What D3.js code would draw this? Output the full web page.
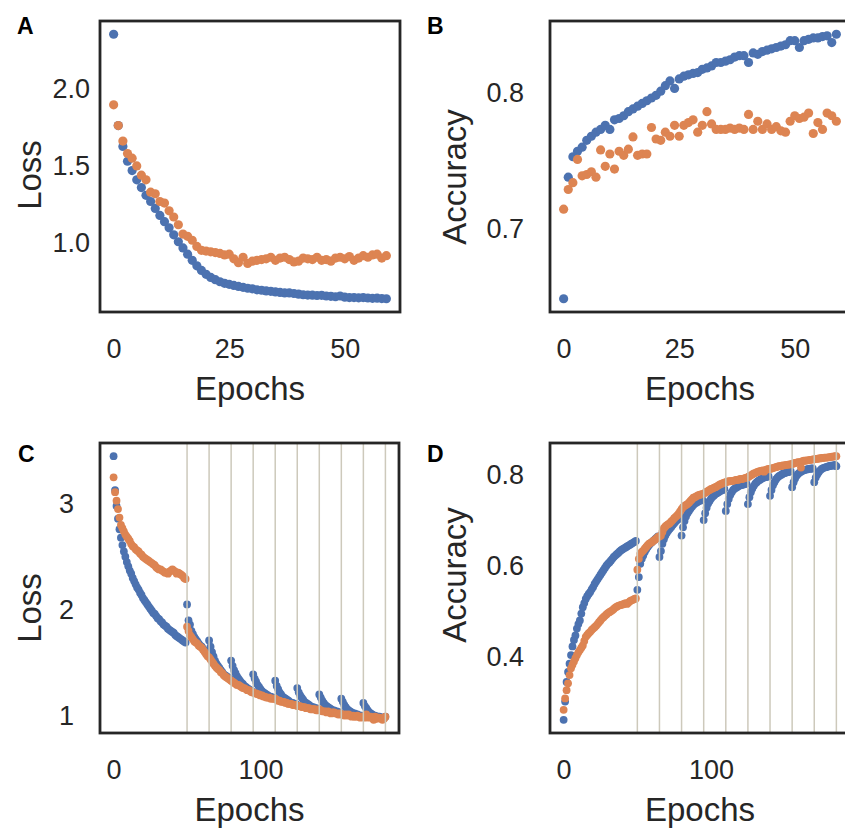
<!DOCTYPE html>
<html>
<head>
<meta charset="utf-8">
<script src="https://cdn.jsdelivr.net/npm/d3@7"></script>
<style>
  body { margin: 0; background: #fff; }
  svg { display: block; font-family: "Liberation Sans", Arial, sans-serif; }
</style>
</head>
<body>
<div id="fig"></div>
<script>
//DATA
//Panel A - loss, single run (60 epochs)
const trainLossA = [
  2.35, 1.76, 1.625, 1.53, 1.47, 1.41, 1.36, 1.31, 1.27, 1.225,
  1.18, 1.14, 1.10, 1.055, 1.01, 0.97, 0.93, 0.89, 0.855, 0.825,
  0.80, 0.78, 0.765, 0.752, 0.742, 0.735, 0.728, 0.722, 0.716, 0.71,
  0.706, 0.70, 0.697, 0.693, 0.69, 0.686, 0.683, 0.68, 0.68, 0.676,
  0.672, 0.668, 0.666, 0.665, 0.663, 0.664, 0.66, 0.658, 0.655, 0.66,
  0.652, 0.65, 0.65, 0.648, 0.65, 0.647, 0.645, 0.646, 0.643, 0.642
];
const valLossA = [
  1.894, 1.76, 1.66, 1.58, 1.55, 1.50, 1.44, 1.41, 1.33, 1.32,
  1.27, 1.26, 1.21, 1.17, 1.12, 1.06, 1.045, 1.02, 0.98, 0.955,
  0.95, 0.945, 0.94, 0.935, 0.925, 0.93, 0.90, 0.875, 0.91, 0.87,
  0.885, 0.89, 0.895, 0.90, 0.91, 0.89, 0.905, 0.91, 0.895, 0.88,
  0.885, 0.905, 0.90, 0.895, 0.91, 0.89, 0.895, 0.885, 0.905, 0.91,
  0.90, 0.915, 0.89, 0.905, 0.92, 0.91, 0.925, 0.93, 0.905, 0.92
];

//Panel B - accuracy, single run
const trainAccB = [
  0.649, 0.738, 0.753, 0.757, 0.760, 0.765, 0.768, 0.771, 0.773, 0.776,
  0.773, 0.780, 0.781, 0.783, 0.786, 0.788, 0.790, 0.792, 0.794, 0.796,
  0.798, 0.801, 0.805, 0.8085, 0.803, 0.810, 0.812, 0.813, 0.814, 0.8146,
  0.817, 0.818, 0.8195, 0.822, 0.822, 0.823, 0.824, 0.826, 0.827, 0.827,
  0.822, 0.829, 0.828, 0.830, 0.831, 0.832, 0.833, 0.834, 0.835, 0.838,
  0.838, 0.833, 0.838, 0.839, 0.840, 0.840, 0.841, 0.8415, 0.8366, 0.8427
];
const valAccB = [
  0.7146, 0.729, 0.734, 0.751, 0.739, 0.740, 0.742, 0.738, 0.758, 0.746,
  0.755, 0.744, 0.757, 0.754, 0.7585, 0.7675, 0.754, 0.755, 0.755, 0.7744,
  0.766, 0.765, 0.771, 0.768, 0.776, 0.768, 0.776, 0.778, 0.780, 0.771,
  0.776, 0.786, 0.777, 0.773, 0.773, 0.773, 0.774, 0.773, 0.774, 0.773,
  0.784, 0.773, 0.779, 0.773, 0.777, 0.773, 0.775, 0.772, 0.771, 0.779,
  0.783, 0.781, 0.782, 0.785, 0.770, 0.778, 0.773, 0.785, 0.783, 0.779
];

//Panel C - loss, restarted training (186 epochs)
const trainLossC = [
  3.45, 3.13, 2.98, 2.86, 2.76, 2.68, 2.61, 2.55, 2.50, 2.45,
  2.41, 2.37, 2.34, 2.30, 2.27, 2.24, 2.21, 2.19, 2.16, 2.14,
  2.11, 2.09, 2.07, 2.05, 2.03, 2.01, 1.99, 1.97, 1.96, 1.94,
  1.92, 1.91, 1.89, 1.88, 1.86, 1.85, 1.84, 1.82, 1.81, 1.80,
  1.79, 1.78, 1.76, 1.75, 1.74, 1.73, 1.72, 1.71, 1.70, 1.69,
  2.05, 1.90, 1.86, 1.80, 1.77, 1.74, 1.72, 1.70, 1.68, 1.66, 1.65, 1.63, 1.61, 1.59, 1.57,
  1.71, 1.65, 1.60, 1.56, 1.52, 1.49, 1.47, 1.45, 1.43, 1.41, 1.39, 1.38, 1.37, 1.36, 1.35,
  1.52, 1.47, 1.43, 1.40, 1.37, 1.35, 1.33, 1.31, 1.30, 1.28, 1.27, 1.26, 1.25, 1.24, 1.23,
  1.39, 1.35, 1.32, 1.29, 1.27, 1.25, 1.23, 1.22, 1.21, 1.20, 1.19, 1.18, 1.18, 1.17, 1.17,
  1.33, 1.28, 1.25, 1.22, 1.20, 1.18, 1.17, 1.16, 1.15, 1.14, 1.13, 1.12, 1.12, 1.11, 1.11,
  1.26, 1.22, 1.19, 1.17, 1.15, 1.13, 1.12, 1.11, 1.10, 1.09, 1.08, 1.08, 1.07, 1.07, 1.06,
  1.20, 1.17, 1.14, 1.12, 1.10, 1.09, 1.08, 1.07, 1.06, 1.05, 1.05, 1.04, 1.04, 1.03, 1.03,
  1.16, 1.13, 1.10, 1.08, 1.06, 1.05, 1.04, 1.03, 1.02, 1.02, 1.01, 1.01, 1.00, 1.00, 1.00,
  1.12, 1.09, 1.07, 1.05, 1.03, 1.02, 1.01, 1.00, 1.00, 0.99, 0.99, 0.99, 0.98, 0.98, 0.98, 0.99
];
const valLossC = [
  3.25, 3.11, 3.03, 2.95, 2.87, 2.80, 2.77, 2.74, 2.71, 2.69,
  2.67, 2.65, 2.62, 2.60, 2.59, 2.57, 2.56, 2.55, 2.53, 2.52,
  2.50, 2.49, 2.48, 2.47, 2.46, 2.45, 2.44, 2.43, 2.42, 2.40,
  2.39, 2.38, 2.38, 2.37, 2.36, 2.35, 2.35, 2.34, 2.36, 2.37,
  2.38, 2.37, 2.36, 2.34, 2.35, 2.34, 2.33, 2.32, 2.30, 2.29,
  1.84, 1.80, 1.76, 1.74, 1.72, 1.70, 1.69, 1.68, 1.66, 1.65,
  1.64, 1.62, 1.60, 1.58, 1.56, 1.55, 1.53, 1.51, 1.49, 1.47,
  1.455, 1.44, 1.43, 1.41, 1.40, 1.38, 1.37, 1.36, 1.35, 1.34,
  1.33, 1.32, 1.31, 1.30, 1.29, 1.29, 1.28, 1.27, 1.26, 1.26,
  1.25, 1.24, 1.24, 1.23, 1.22, 1.22, 1.21, 1.21, 1.20, 1.20,
  1.19, 1.19, 1.18, 1.18, 1.17, 1.17, 1.17, 1.16, 1.16, 1.16,
  1.16, 1.15, 1.14, 1.14, 1.13, 1.13, 1.13, 1.12, 1.12, 1.11,
  1.11, 1.11, 1.10, 1.10, 1.10, 1.09, 1.09, 1.09, 1.08, 1.08,
  1.08, 1.07, 1.07, 1.07, 1.06, 1.06, 1.06, 1.06, 1.05, 1.05,
  1.06, 1.05, 1.04, 1.04, 1.04, 1.03, 1.04, 1.03, 1.02, 1.03,
  1.03, 1.02, 1.02, 1.01, 1.02, 1.01, 1.01, 1.00, 1.01, 1.00,
  1.01, 1.00, 0.99, 1.00, 0.99, 0.99, 1.00, 0.99, 0.98, 0.99,
  0.99, 0.98, 1.01, 0.99, 0.98, 0.99, 0.98, 0.96, 0.99, 0.97,
  0.98, 0.98, 0.97, 0.96, 0.97, 0.99
];

//Panel D - accuracy, restarted training
const trainAccD = [
  0.262, 0.302, 0.345, 0.367, 0.385, 0.404, 0.423, 0.437, 0.447, 0.462,
  0.472, 0.480, 0.495, 0.509, 0.518, 0.527, 0.533, 0.538, 0.542, 0.548,
  0.553, 0.560, 0.565, 0.570, 0.575, 0.580, 0.585, 0.590, 0.595, 0.600,
  0.604, 0.607, 0.611, 0.615, 0.619, 0.622, 0.625, 0.628, 0.631, 0.634,
  0.636, 0.638, 0.640, 0.642, 0.644, 0.646, 0.648, 0.650, 0.652, 0.654,
  0.547, 0.575, 0.604, 0.615, 0.622, 0.630, 0.636, 0.641, 0.645, 0.649, 0.652, 0.655, 0.658, 0.661, 0.664,
  0.619, 0.632, 0.648, 0.658, 0.666, 0.672, 0.677, 0.681, 0.685, 0.689, 0.693, 0.697, 0.700, 0.703, 0.707,
  0.666, 0.684, 0.698, 0.708, 0.715, 0.720, 0.725, 0.729, 0.733, 0.736, 0.738, 0.740, 0.742, 0.743, 0.745,
  0.700, 0.715, 0.727, 0.736, 0.742, 0.747, 0.751, 0.754, 0.757, 0.759, 0.761, 0.763, 0.765, 0.766, 0.768,
  0.720, 0.735, 0.746, 0.755, 0.761, 0.766, 0.769, 0.771, 0.773, 0.775, 0.776, 0.777, 0.778, 0.779, 0.780,
  0.735, 0.750, 0.761, 0.769, 0.775, 0.780, 0.783, 0.786, 0.788, 0.790, 0.792, 0.793, 0.794, 0.795, 0.796,
  0.753, 0.766, 0.776, 0.783, 0.789, 0.793, 0.796, 0.798, 0.800, 0.802, 0.803, 0.804, 0.805, 0.806, 0.807,
  0.772, 0.783, 0.791, 0.797, 0.801, 0.804, 0.806, 0.808, 0.809, 0.810, 0.811, 0.812, 0.812, 0.813, 0.813,
  0.783, 0.793, 0.800, 0.805, 0.809, 0.812, 0.814, 0.815, 0.816, 0.817, 0.818, 0.819, 0.819, 0.820, 0.821, 0.818
];
const valAccD = [
  0.284, 0.309, 0.327, 0.342, 0.360, 0.375, 0.383, 0.390, 0.397, 0.404,
  0.410, 0.415, 0.420, 0.425, 0.435, 0.444, 0.448, 0.452, 0.455, 0.459,
  0.462, 0.465, 0.468, 0.472, 0.476, 0.480, 0.484, 0.487, 0.490, 0.493,
  0.496, 0.498, 0.500, 0.502, 0.505, 0.508, 0.510, 0.512, 0.513, 0.514,
  0.515, 0.516, 0.518, 0.516, 0.519, 0.522, 0.524, 0.525, 0.527, 0.528,
  0.591, 0.615, 0.626, 0.630, 0.633, 0.637, 0.641, 0.645, 0.648, 0.650,
  0.652, 0.655, 0.657, 0.660, 0.663, 0.664, 0.666, 0.674, 0.682, 0.686,
  0.689, 0.691, 0.693, 0.697, 0.700, 0.704, 0.707, 0.710, 0.714, 0.719,
  0.724, 0.728, 0.731, 0.733, 0.735, 0.738, 0.742, 0.745, 0.749, 0.750,
  0.752, 0.754, 0.755, 0.756, 0.757, 0.758, 0.760, 0.762, 0.764, 0.766,
  0.768, 0.769, 0.771, 0.772, 0.774, 0.776, 0.778, 0.779, 0.781, 0.782,
  0.783, 0.784, 0.785, 0.785, 0.786, 0.786, 0.787, 0.788, 0.788, 0.789,
  0.790, 0.790, 0.791, 0.792, 0.793, 0.794, 0.796, 0.798, 0.800, 0.802,
  0.803, 0.805, 0.806, 0.807, 0.808, 0.809, 0.806, 0.810, 0.811, 0.812,
  0.812, 0.813, 0.814, 0.815, 0.816, 0.817, 0.818, 0.818, 0.819, 0.820,
  0.820, 0.821, 0.821, 0.822, 0.822, 0.823, 0.824, 0.825, 0.826, 0.827,
  0.827, 0.815, 0.829, 0.830, 0.830, 0.831, 0.831, 0.832, 0.832, 0.833,
  0.833, 0.834, 0.834, 0.835, 0.835, 0.836, 0.836, 0.837, 0.837, 0.837,
  0.838, 0.838, 0.839, 0.839, 0.840, 0.840
];

//Epochs where training was restarted (vertical guides in C and D)
const restartEpochs = [50, 65, 80, 95, 110, 125, 140, 155, 170, 185];

//Tick labels
const xTicksShort = [0, 25, 50];
const xTicksLong = [0, 100];
const yTicksA = [1.0, 1.5, 2.0];
const yTicksB = [0.7, 0.8];
const yTicksC = [1, 2, 3];
const yTicksD = [0.4, 0.6, 0.8];

//STYLE
const blue = "#4C72B0";
const orange = "#DD8452";
const ink = "#262626";
const W = 845, H = 830;

const svg = d3.select("#fig").append("svg")
    .attr("width", W)
    .attr("height", H);

svg.append("rect").attr("width", W).attr("height", H).attr("fill", "#fff");

//Draw one panel
function drawPanel(p) {
    const n = p.train.length;
    const idx = d3.range(n);

    //matplotlib style 5% margins
    const xPad = 0.05 * (n - 1);
    const x = d3.scaleLinear()
        .domain([-xPad, n - 1 + xPad])
        .range([p.left, p.left + p.w]);

    const [lo, hi] = d3.extent(p.train.concat(p.val));
    const yPadV = 0.05 * (hi - lo);
    const y = d3.scaleLinear()
        .domain([lo - yPadV, hi + yPadV])
        .range([p.top + p.h, p.top]);

    const g = svg.append("g");

    //Train (blue) then validation (orange) on top
    [[p.train, blue], [p.val, orange]].forEach(([vals, col]) => {
        g.append("g")
            .selectAll("circle")
            .data(idx)
            .enter()
            .append("circle")
            .attr("cx", i => x(i))
            .attr("cy", i => y(vals[i]))
            .attr("r", p.r)
            .attr("fill", col);
    });

    //Restart guides
    if (p.guides) {
        g.append("g")
            .selectAll("line")
            .data(p.guides)
            .enter()
            .append("line")
            .attr("x1", d => x(d))
            .attr("x2", d => x(d))
            .attr("y1", p.top)
            .attr("y2", p.top + p.h)
            .attr("stroke", "#cdc9bb")
            .attr("stroke-width", 1.5);
    }

    //Frame
    g.append("rect")
        .attr("x", p.left)
        .attr("y", p.top)
        .attr("width", p.w)
        .attr("height", p.h)
        .attr("fill", "none")
        .attr("stroke", ink)
        .attr("stroke-width", 2.8);

    //Y axis
    g.append("g")
        .attr("transform", `translate(${p.left},0)`)
        .call(d3.axisLeft(y).tickValues(p.yTicks).tickFormat(d3.format(p.yFmt)).tickSize(0).tickPadding(p.yTickPad))
        .call(a => a.select(".domain").remove())
        .attr("font-family", null)
        .attr("font-size", 27)
        .style("color", ink);

    //X axis
    g.append("g")
        .attr("transform", `translate(0,${p.top + p.h})`)
        .call(d3.axisBottom(x).tickValues(p.xTicks).tickFormat(d3.format("d")).tickSize(0).tickPadding(27))
        .call(a => a.select(".domain").remove())
        .attr("font-family", null)
        .attr("font-size", 27)
        .style("color", ink);

    //Axis labels
    g.append("text")
        .attr("x", p.left + p.w / 2)
        .attr("y", p.top + p.h + 88)
        .attr("text-anchor", "middle")
        .attr("font-size", 33)
        .attr("fill", ink)
        .text("Epochs");

    g.append("text")
        .attr("transform", `translate(${p.yLabelX},${p.yLabelY}) rotate(-90)`)
        .attr("text-anchor", "middle")
        .attr("font-size", 33)
        .attr("fill", ink)
        .text(p.yLabel);

    //Panel letter
    g.append("text")
        .attr("x", p.letterX)
        .attr("y", p.letterY)
        .attr("font-size", 23)
        .attr("font-weight", "bold")
        .attr("fill", "#000")
        .text(p.letter);
}

drawPanel({
    letter: "A", letterX: 17, letterY: 34,
    left: 100, top: 21, w: 300, h: 291, r: 4.6,
    train: trainLossA, val: valLossA,
    xTicks: xTicksShort, yTicks: yTicksA, yFmt: ".1f", yTickPad: 10,
    yLabel: "Loss", yLabelX: 41, yLabelY: 175
});

drawPanel({
    letter: "B", letterX: 427, letterY: 34,
    left: 550, top: 21, w: 300, h: 291, r: 4.6,
    train: trainAccB, val: valAccB,
    xTicks: xTicksShort, yTicks: yTicksB, yFmt: ".1f", yTickPad: 26,
    yLabel: "Accuracy", yLabelX: 466, yLabelY: 177
});

drawPanel({
    letter: "C", letterX: 18, letterY: 462,
    left: 100, top: 443, w: 299, h: 290, r: 3.9,
    train: trainLossC, val: valLossC, guides: restartEpochs,
    xTicks: xTicksLong, yTicks: yTicksC, yFmt: "d", yTickPad: 26,
    yLabel: "Loss", yLabelX: 41, yLabelY: 608
});

drawPanel({
    letter: "D", letterX: 427, letterY: 462,
    left: 550, top: 443, w: 300, h: 290, r: 3.9,
    train: trainAccD, val: valAccD, guides: restartEpochs,
    xTicks: xTicksLong, yTicks: yTicksD, yFmt: ".1f", yTickPad: 26,
    yLabel: "Accuracy", yLabelX: 466, yLabelY: 575
});
</script>
</body>
</html>
